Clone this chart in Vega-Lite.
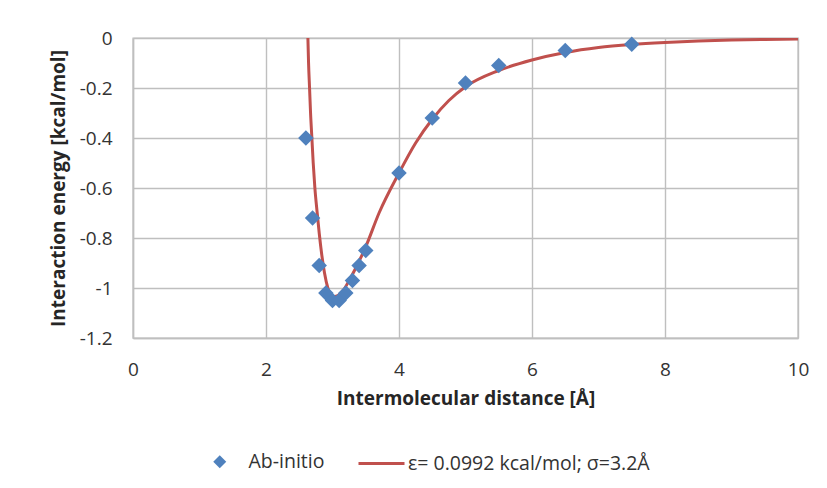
{
  "$schema": "https://vega.github.io/schema/vega-lite/v6.json",
  "width": 665,
  "height": 300,
  "autosize": {"type": "none"},
  "padding": {"left": 133, "top": 38, "right": 29, "bottom": 150},
  "background": "white",
  "config": {
    "font": "Open Sans",
    "view": {"stroke": "#BFBFBF", "strokeWidth": 1.4},
    "axis": {
      "gridColor": "#BFBFBF",
      "gridWidth": 1.4,
      "domainColor": "#BFBFBF",
      "domainWidth": 1.4,
      "ticks": false,
      "labelFlush": false,
      "labelFont": "Open Sans",
      "labelFontSize": 19,
      "labelColor": "#333333",
      "titleFont": "Open Sans",
      "titleFontSize": 19,
      "titleFontWeight": "bold",
      "titleColor": "#262626"
    },
    "legend": {"labelFont": "Open Sans", "labelFontSize": 19.5, "labelColor": "#333333", "labelLimit": 500}
  },
  "datasets": {
    "fit": [
      {"r": 2.63, "e": 0.0, "series": "ε= 0.0992 kcal/mol; σ=3.2Å"},
      {"r": 2.64, "e": -0.1, "series": "ε= 0.0992 kcal/mol; σ=3.2Å"},
      {"r": 2.655, "e": -0.2, "series": "ε= 0.0992 kcal/mol; σ=3.2Å"},
      {"r": 2.67, "e": -0.3, "series": "ε= 0.0992 kcal/mol; σ=3.2Å"},
      {"r": 2.69, "e": -0.4, "series": "ε= 0.0992 kcal/mol; σ=3.2Å"},
      {"r": 2.71, "e": -0.5, "series": "ε= 0.0992 kcal/mol; σ=3.2Å"},
      {"r": 2.735, "e": -0.6, "series": "ε= 0.0992 kcal/mol; σ=3.2Å"},
      {"r": 2.77, "e": -0.7, "series": "ε= 0.0992 kcal/mol; σ=3.2Å"},
      {"r": 2.8, "e": -0.78, "series": "ε= 0.0992 kcal/mol; σ=3.2Å"},
      {"r": 2.84, "e": -0.87, "series": "ε= 0.0992 kcal/mol; σ=3.2Å"},
      {"r": 2.88, "e": -0.94, "series": "ε= 0.0992 kcal/mol; σ=3.2Å"},
      {"r": 2.93, "e": -1.0, "series": "ε= 0.0992 kcal/mol; σ=3.2Å"},
      {"r": 3.0, "e": -1.035, "series": "ε= 0.0992 kcal/mol; σ=3.2Å"},
      {"r": 3.08, "e": -1.03, "series": "ε= 0.0992 kcal/mol; σ=3.2Å"},
      {"r": 3.16, "e": -1.01, "series": "ε= 0.0992 kcal/mol; σ=3.2Å"},
      {"r": 3.25, "e": -0.97, "series": "ε= 0.0992 kcal/mol; σ=3.2Å"},
      {"r": 3.35, "e": -0.92, "series": "ε= 0.0992 kcal/mol; σ=3.2Å"},
      {"r": 3.5, "e": -0.835, "series": "ε= 0.0992 kcal/mol; σ=3.2Å"},
      {"r": 3.7, "e": -0.7, "series": "ε= 0.0992 kcal/mol; σ=3.2Å"},
      {"r": 4.0, "e": -0.54, "series": "ε= 0.0992 kcal/mol; σ=3.2Å"},
      {"r": 4.25, "e": -0.42, "series": "ε= 0.0992 kcal/mol; σ=3.2Å"},
      {"r": 4.5, "e": -0.325, "series": "ε= 0.0992 kcal/mol; σ=3.2Å"},
      {"r": 4.75, "e": -0.25, "series": "ε= 0.0992 kcal/mol; σ=3.2Å"},
      {"r": 5.0, "e": -0.195, "series": "ε= 0.0992 kcal/mol; σ=3.2Å"},
      {"r": 5.5, "e": -0.13, "series": "ε= 0.0992 kcal/mol; σ=3.2Å"},
      {"r": 6.0, "e": -0.088, "series": "ε= 0.0992 kcal/mol; σ=3.2Å"},
      {"r": 6.5, "e": -0.058, "series": "ε= 0.0992 kcal/mol; σ=3.2Å"},
      {"r": 7.0, "e": -0.038, "series": "ε= 0.0992 kcal/mol; σ=3.2Å"},
      {"r": 7.5, "e": -0.026, "series": "ε= 0.0992 kcal/mol; σ=3.2Å"},
      {"r": 8.0, "e": -0.018, "series": "ε= 0.0992 kcal/mol; σ=3.2Å"},
      {"r": 8.5, "e": -0.012, "series": "ε= 0.0992 kcal/mol; σ=3.2Å"},
      {"r": 9.0, "e": -0.008, "series": "ε= 0.0992 kcal/mol; σ=3.2Å"},
      {"r": 9.5, "e": -0.006, "series": "ε= 0.0992 kcal/mol; σ=3.2Å"},
      {"r": 10.0, "e": -0.004, "series": "ε= 0.0992 kcal/mol; σ=3.2Å"}
    ],
    "pts": [
      {"r": 2.6, "e": -0.4, "series": "Ab-initio"},
      {"r": 2.7, "e": -0.72, "series": "Ab-initio"},
      {"r": 2.8, "e": -0.91, "series": "Ab-initio"},
      {"r": 2.9, "e": -1.02, "series": "Ab-initio"},
      {"r": 3.0, "e": -1.05, "series": "Ab-initio"},
      {"r": 3.1, "e": -1.05, "series": "Ab-initio"},
      {"r": 3.2, "e": -1.02, "series": "Ab-initio"},
      {"r": 3.3, "e": -0.97, "series": "Ab-initio"},
      {"r": 3.4, "e": -0.91, "series": "Ab-initio"},
      {"r": 3.5, "e": -0.85, "series": "Ab-initio"},
      {"r": 4.0, "e": -0.54, "series": "Ab-initio"},
      {"r": 4.5, "e": -0.32, "series": "Ab-initio"},
      {"r": 5.0, "e": -0.18, "series": "Ab-initio"},
      {"r": 5.5, "e": -0.11, "series": "Ab-initio"},
      {"r": 6.5, "e": -0.05, "series": "Ab-initio"},
      {"r": 7.5, "e": -0.025, "series": "Ab-initio"}
    ]
  },
  "encoding": {
    "x": {
      "field": "r",
      "type": "quantitative",
      "scale": {"domain": [0, 10], "nice": false, "zero": false},
      "axis": {
        "title": "Intermolecular distance [Å]",
        "values": [0, 2, 4, 6, 8, 10],
        "labelPadding": 22,
        "titlePadding": 10
      }
    },
    "y": {
      "field": "e",
      "type": "quantitative",
      "scale": {"domain": [-1.2, 0], "nice": false, "zero": false},
      "axis": {
        "title": "Interaction energy [kcal/mol]",
        "values": [-1.2, -1, -0.8, -0.6, -0.4, -0.2, 0],
        "labelExpr": "'' + datum.value",
        "labelPadding": 21,
        "titlePadding": 11
      }
    }
  },
  "layer": [
    {
      "data": {"name": "fit"},
      "mark": {"type": "line", "strokeWidth": 3, "interpolate": "monotone", "clip": true},
      "encoding": {
        "stroke": {
          "field": "series",
          "type": "nominal",
          "scale": {"range": ["#C0504D"]},
          "legend": {
            "title": null,
            "orient": "none",
            "legendX": 224,
            "legendY": 401,
            "padding": 0,
            "symbolType": "stroke",
            "symbolSize": 2116,
            "symbolStrokeWidth": 3,
            "labelOffset": 2
          }
        }
      }
    },
    {
      "data": {"name": "pts"},
      "mark": {"type": "point", "shape": "diamond", "filled": true, "size": 240, "opacity": 1},
      "encoding": {
        "color": {
          "field": "series",
          "type": "nominal",
          "scale": {"range": ["#4F81BD"]},
          "legend": {
            "title": null,
            "orient": "none",
            "legendX": 77,
            "legendY": 414,
            "padding": 0,
            "symbolType": "diamond",
            "symbolSize": 170,
            "symbolOpacity": 1,
            "symbolStrokeWidth": 0,
            "labelOffset": 19
          }
        }
      }
    }
  ]
}
